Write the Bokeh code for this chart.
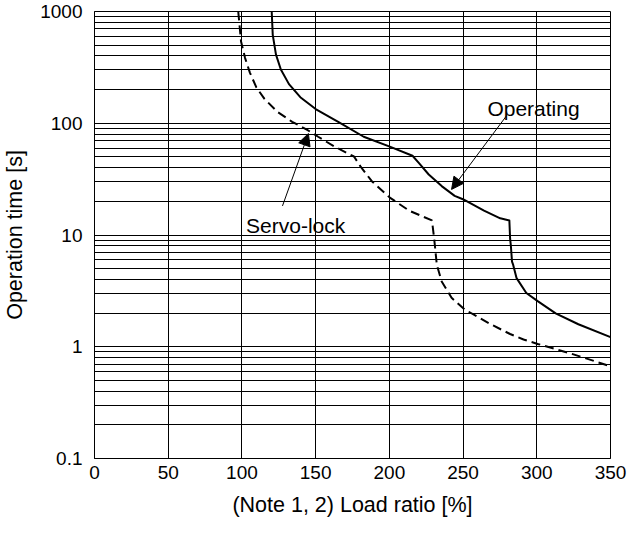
from bokeh.plotting import figure
from bokeh.models import FixedTicker, Arrow, NormalHead, Label, Range1d
from bokeh.embed import file_html
from bokeh.resources import INLINE

# Data
load_operating = [120.2, 120.9, 123.1, 126.4, 131.9, 139.6, 150.0, 166.5, 182.6, 200.3,
                  215.7, 220.1, 226.7, 235.5, 244.3, 249.9, 264.2, 275.2, 281.4, 281.9,
                  282.4, 283.2, 284.0, 286.3, 292.9, 300.6, 312.8, 328.2, 350.0]
time_operating = [1000, 618, 411, 303, 224, 171, 134, 101, 75.7, 61.8,
                  51.2, 44.0, 34.8, 27.4, 22.4, 20.9, 16.5, 14.1, 13.5, 9.27,
                  8.09, 5.77, 5.4, 4.11, 3.03, 2.56, 1.99, 1.59, 1.22]

load_servo = [97.5, 99.4, 102.1, 105.4, 109.8, 115.3, 124.2, 134.1, 144.0, 151.7,
              162.8, 176.0, 180.4, 188.1, 200.3, 213.5, 228.9, 230.4, 232.2, 235.5,
              242.2, 251.0, 267.5, 281.9, 291.0, 300.6, 323.7, 350.0]
time_servo = [1000, 540, 385, 284, 209, 165, 126, 103, 87.8, 75.7,
              61.8, 50.4, 41.1, 30.3, 21.6, 16.5, 13.5, 9.27, 5.4, 3.84,
              2.74, 2.16, 1.62, 1.30, 1.16, 1.06, 0.865, 0.668]

x_ticks = [0, 50, 100, 150, 200, 250, 300, 350]
y_ticks = [0.1, 1, 10, 100, 1000]
y_tick_labels = ["0.1", "1", "10", "100", "1000"]
y_minor = [m * d for d in [0.1, 1, 10, 100] for m in [2, 3, 4, 5, 6, 7, 8, 9]]

FONT = "Liberation Sans"

p = figure(width=627, height=523, x_range=Range1d(0, 350), y_range=Range1d(0.1, 1000),
           y_axis_type="log", output_backend="svg", toolbar_location=None,
           min_border_left=86, min_border_right=17, min_border_top=11, min_border_bottom=65,
           background_fill_color="white", border_fill_color="white")

p.outline_line_color = "black"
p.outline_line_width = 1

p.xaxis.ticker = FixedTicker(ticks=x_ticks)
p.yaxis.ticker = FixedTicker(ticks=y_ticks, minor_ticks=y_minor)
p.yaxis.major_label_overrides = {v: s for v, s in zip(y_ticks, y_tick_labels)}

for ax in (p.xaxis[0], p.yaxis[0]):
    ax.axis_line_color = "black"
    ax.major_tick_out = 0
    ax.major_tick_in = 0
    ax.minor_tick_out = 0
    ax.minor_tick_in = 0
    ax.major_label_text_font = FONT
    ax.major_label_text_font_size = "19px"
    ax.major_label_text_color = "black"
    ax.axis_label_text_font = FONT
    ax.axis_label_text_font_size = "21.5px"
    ax.axis_label_text_font_style = "normal"
    ax.axis_label_text_color = "black"

p.xaxis.axis_label = "(Note 1, 2) Load ratio [%]"
p.yaxis.axis_label = "Operation time [s]"
p.xaxis.major_label_standoff = 7
p.xaxis.axis_label_standoff = 11
p.yaxis.major_label_standoff = 12
p.yaxis.axis_label_standoff = 10

p.xgrid.grid_line_color = "black"
p.xgrid.grid_line_alpha = 1
p.ygrid.grid_line_color = "black"
p.ygrid.grid_line_alpha = 1
p.ygrid.minor_grid_line_color = "black"
p.ygrid.minor_grid_line_alpha = 1

p.line(load_operating, time_operating, line_color="black", line_width=2, line_join="round")
p.line(load_servo, time_servo, line_color="black", line_width=2, line_dash="9 5")

p.add_layout(Arrow(end=NormalHead(size=12, fill_color="black", line_color="black"),
                   x_start=279.7, y_start=117.7, x_end=242.2, y_end=25.6,
                   line_color="black", line_width=1))
p.add_layout(Arrow(end=NormalHead(size=12, fill_color="black", line_color="black"),
                   x_start=127.5, y_start=18.2, x_end=145.1, y_end=80.9,
                   line_color="black", line_width=1))

p.add_layout(Label(x=266.5, y=134.6, text="Operating", text_font=FONT,
                   text_font_size="21px", text_color="black", text_baseline="alphabetic"))
p.add_layout(Label(x=102.8, y=12.2, text="Servo-lock", text_font=FONT,
                   text_font_size="21px", text_color="black", text_baseline="alphabetic"))

open("out.html", "w").write(file_html(p, INLINE))
